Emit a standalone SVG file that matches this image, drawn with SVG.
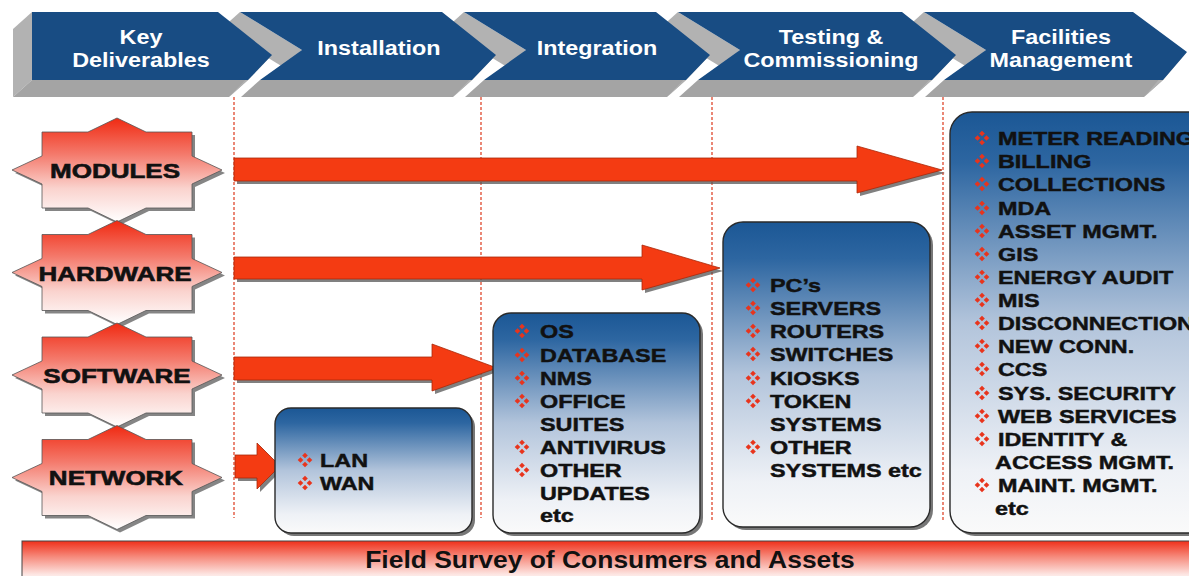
<svg xmlns="http://www.w3.org/2000/svg" xmlns:xlink="http://www.w3.org/1999/xlink" width="1189" height="576" viewBox="0 0 1189 576">
  <defs>
    <style>
      .face { fill: #b2b2b2; }
      .base { fill: #a4a4a4; }
      .front { fill: #184c83; }
      .hd { font-family: "Liberation Sans", Arial, sans-serif; font-weight: bold; font-size: 20.5px; fill: #ffffff; text-anchor: middle; }
      .lbl { font-family: "Liberation Sans", Arial, sans-serif; font-weight: bold; font-size: 20px; fill: #111; stroke: #111; stroke-width: 0.6; text-anchor: middle; }
      .itm { font-family: "Liberation Sans", Arial, sans-serif; font-weight: bold; font-size: 19px; fill: #111; stroke: #111; stroke-width: 0.45; }
      .ft { font-family: "Liberation Sans", Arial, sans-serif; font-weight: bold; font-size: 23px; fill: #111; text-anchor: middle; }
      .guide { stroke: #e2553c; stroke-width: 1.4; stroke-dasharray: 3 2; fill: none; }
      .arrow { fill: #f43b12; stroke: #a8280a; stroke-width: 0.8; }
      .ashadow { fill: #555; opacity: 0.75; }
      .star { fill: url(#starGrad); stroke: #555; stroke-width: 0.8; }
      .sshadow { fill: #666; opacity: 0.8; }
      .box { fill: url(#boxGrad); stroke: #2a2a2a; stroke-width: 1.4; }
      .bshadow { fill: #555; opacity: 0.8; }
    </style>
    <linearGradient id="starGrad" x1="0" y1="0" x2="0" y2="1">
      <stop offset="0" stop-color="#f02a12"/>
      <stop offset="0.35" stop-color="#f47a6c"/>
      <stop offset="0.68" stop-color="#fad3ce"/>
      <stop offset="1" stop-color="#ffffff"/>
    </linearGradient>
    <linearGradient id="boxGrad" x1="0" y1="0" x2="0" y2="1">
      <stop offset="0" stop-color="#1b5795"/>
      <stop offset="0.12" stop-color="#2d66a1"/>
      <stop offset="0.5" stop-color="#b2c4db"/>
      <stop offset="0.85" stop-color="#eef1f6"/>
      <stop offset="1" stop-color="#fafafa"/>
    </linearGradient>
    <linearGradient id="barGrad" x1="0" y1="0" x2="0" y2="1">
      <stop offset="0" stop-color="#f0301a"/>
      <stop offset="0.35" stop-color="#f68a7c"/>
      <stop offset="0.75" stop-color="#fde7e4"/>
      <stop offset="1" stop-color="#ffffff"/>
    </linearGradient>
    <!-- four-diamond bullet -->
    <g id="bul" fill="#e8341c">
      <polygon points="0,-7.3 2.8,-4.5 0,-1.7 -2.8,-4.5"/>
      <polygon points="4.5,-2.8 7.3,0 4.5,2.8 1.7,0"/>
      <polygon points="0,1.7 2.8,4.5 0,7.3 -2.8,4.5"/>
      <polygon points="-4.5,-2.8 -1.7,0 -4.5,2.8 -7.3,0"/>
    </g>
    <!-- eight-point label badge centred on 0,0 -->
    <polygon id="badge" points="-75,-38 -29,-38 0,-52 29,-38 75,-38 75,-14 105,0 75,14 75,38 29,38 0,52 -29,38 -75,38 -75,14 -105,0 -75,-14"/>
  </defs>

  <rect width="1189" height="576" fill="#ffffff"/>

  <!-- phase banner: extruded grey faces -->
  <g id="banner-faces">
    <polygon class="face" points="32,12 32,80 13,97 13,29"/>
    <polygon class="base" points="32,80 248,80 229,97 13,97"/>
    <polygon class="face" points="272,55 248,80 229,97 253,72"/>
    <polygon class="face" points="240,12 302,50 283,67 221,29"/>
    <polygon class="base" points="260,80 472,80 453,97 241,97"/>
    <polygon class="face" points="496,55 472,80 453,97 477,72"/>
    <polygon class="face" points="464,12 526,50 507,67 445,29"/>
    <polygon class="base" points="484,80 686,80 667,97 465,97"/>
    <polygon class="face" points="710,55 686,80 667,97 691,72"/>
    <polygon class="face" points="678,12 740,50 721,67 659,29"/>
    <polygon class="base" points="698,80 932,80 913,97 679,97"/>
    <polygon class="face" points="956,55 932,80 913,97 937,72"/>
    <polygon class="face" points="924,12 986,50 967,67 905,29"/>
    <polygon class="base" points="944,80 1163,80 1144,97 925,97"/>
    <polygon class="face" points="1187,52 1163,80 1144,97 1168,69"/>
  </g>

  <g id="phase-key-deliverables">
    <polygon class="front" points="32,12 218,12 272,55 248,80 32,80"/>
    <g transform="translate(141,0) scale(1.14,1)">
      <text class="hd" x="0" y="44">Key</text>
      <text class="hd" x="0" y="67">Deliverables</text>
    </g>
  </g>
  <g id="phase-installation">
    <polygon class="front" points="240,12 442,12 496,55 472,80 260,80 302,50"/>
    <g transform="translate(379,0) scale(1.14,1)">
      <text class="hd" x="0" y="55">Installation</text>
    </g>
  </g>
  <g id="phase-integration">
    <polygon class="front" points="464,12 656,12 710,55 686,80 484,80 526,50"/>
    <g transform="translate(597,0) scale(1.14,1)">
      <text class="hd" x="0" y="55">Integration</text>
    </g>
  </g>
  <g id="phase-testing">
    <polygon class="front" points="678,12 902,12 956,55 932,80 698,80 740,50"/>
    <g transform="translate(831,0) scale(1.14,1)">
      <text class="hd" x="0" y="44">Testing &amp;</text>
      <text class="hd" x="0" y="67">Commissioning</text>
    </g>
  </g>
  <g id="phase-facilities">
    <polygon class="front" points="924,12 1133,12 1187,52 1163,80 944,80 986,50"/>
    <g transform="translate(1061,0) scale(1.14,1)">
      <text class="hd" x="0" y="44">Facilities</text>
      <text class="hd" x="0" y="67">Management</text>
    </g>
  </g>

  <!-- phase boundaries -->
  <g id="guides">
    <line class="guide" x1="234" y1="97" x2="234" y2="518"/>
    <line class="guide" x1="481" y1="97" x2="481" y2="518"/>
    <line class="guide" x1="712" y1="97" x2="712" y2="520"/>
    <line class="guide" x1="943" y1="97" x2="943" y2="520"/>
  </g>

  <!-- deliverable badges -->
  <g id="badge-modules">
    <use href="#badge" class="sshadow" transform="translate(120,173)"/>
    <use href="#badge" class="star" transform="translate(117,170)"/>
    <g transform="translate(115,0) scale(1.3,1)"><text class="lbl" x="0" y="178">MODULES</text></g>
  </g>
  <g id="badge-hardware">
    <use href="#badge" class="sshadow" transform="translate(120,275.5)"/>
    <use href="#badge" class="star" transform="translate(117,272.5)"/>
    <g transform="translate(115,0) scale(1.3,1)"><text class="lbl" x="0" y="281">HARDWARE</text></g>
  </g>
  <g id="badge-software">
    <use href="#badge" class="sshadow" transform="translate(120,378)"/>
    <use href="#badge" class="star" transform="translate(117,375)"/>
    <g transform="translate(117,0) scale(1.3,1)"><text class="lbl" x="0" y="383">SOFTWARE</text></g>
  </g>
  <g id="badge-network">
    <use href="#badge" class="sshadow" transform="translate(120,480.5)"/>
    <use href="#badge" class="star" transform="translate(117,477.5)"/>
    <g transform="translate(116,0) scale(1.3,1)"><text class="lbl" x="0" y="485">NETWORK</text></g>
  </g>

  <!-- block arrows from each deliverable to its phase -->
  <g id="connectors">
    <polygon class="ashadow" transform="translate(3,3)" points="234,158 857,158 857,146 942,170 857,193 857,181 234,181"/>
    <polygon class="arrow" points="234,158 857,158 857,146 942,170 857,193 857,181 234,181"/>
    <polygon class="ashadow" transform="translate(3,3)" points="234,257 642,257 642,245 720,268 642,290 642,279 234,279"/>
    <polygon class="arrow" points="234,257 642,257 642,245 720,268 642,290 642,279 234,279"/>
    <polygon class="ashadow" transform="translate(3,3)" points="234,357 432,357 432,344 497,368 432,391 432,380 234,380"/>
    <polygon class="arrow" points="234,357 432,357 432,344 497,368 432,391 432,380 234,380"/>
    <polygon class="ashadow" transform="translate(3,3)" points="235,455 257,455 257,443 280,466 257,489 257,478 235,478"/>
    <polygon class="arrow" points="235,455 257,455 257,443 280,466 257,489 257,478 235,478"/>
  </g>

  <!-- installation: network -->
  <g id="box-network">
    <rect class="bshadow" x="278" y="411" width="197" height="125" rx="16"/>
    <rect class="box" x="275" y="408" width="197" height="125" rx="16"/>
    <use href="#bul" x="305" y="460"/>
    <use href="#bul" x="305" y="483"/>
    <g transform="translate(320,0) scale(1.23,1)">
      <text class="itm" x="0" y="467">LAN</text>
      <text class="itm" x="0" y="490">WAN</text>
    </g>
  </g>

  <!-- integration: software -->
  <g id="box-software">
    <rect class="bshadow" x="496" y="316" width="207" height="220" rx="18"/>
    <rect class="box" x="493" y="313" width="207" height="220" rx="18"/>
    <use href="#bul" x="522" y="331"/>
    <use href="#bul" x="522" y="355"/>
    <use href="#bul" x="522" y="378"/>
    <use href="#bul" x="522" y="401"/>
    <use href="#bul" x="522" y="447"/>
    <use href="#bul" x="522" y="470"/>
    <g transform="translate(540,0) scale(1.23,1)">
      <text class="itm" x="0" y="338">OS</text>
      <text class="itm" x="0" y="362">DATABASE</text>
      <text class="itm" x="0" y="385">NMS</text>
      <text class="itm" x="0" y="408">OFFICE</text>
      <text class="itm" x="0" y="431">SUITES</text>
      <text class="itm" x="0" y="454">ANTIVIRUS</text>
      <text class="itm" x="0" y="477">OTHER</text>
      <text class="itm" x="0" y="500">UPDATES</text>
      <text class="itm" x="0" y="522">etc</text>
    </g>
  </g>

  <!-- testing & commissioning: hardware -->
  <g id="box-hardware">
    <rect class="bshadow" x="726" y="225" width="207" height="305" rx="20"/>
    <rect class="box" x="723" y="222" width="207" height="305" rx="20"/>
    <use href="#bul" x="753" y="285"/>
    <use href="#bul" x="753" y="308"/>
    <use href="#bul" x="753" y="331"/>
    <use href="#bul" x="753" y="354"/>
    <use href="#bul" x="753" y="378"/>
    <use href="#bul" x="753" y="401"/>
    <use href="#bul" x="753" y="447"/>
    <g transform="translate(770,0) scale(1.23,1)">
      <text class="itm" x="0" y="292">PC’s</text>
      <text class="itm" x="0" y="315">SERVERS</text>
      <text class="itm" x="0" y="338">ROUTERS</text>
      <text class="itm" x="0" y="361">SWITCHES</text>
      <text class="itm" x="0" y="385">KIOSKS</text>
      <text class="itm" x="0" y="408">TOKEN</text>
      <text class="itm" x="0" y="431">SYSTEMS</text>
      <text class="itm" x="0" y="454">OTHER</text>
      <text class="itm" x="0" y="477">SYSTEMS etc</text>
    </g>
  </g>

  <!-- facilities management: modules -->
  <g id="box-modules">
    <rect class="bshadow" x="953" y="115" width="260" height="421" rx="22"/>
    <rect class="box" x="950" y="112" width="260" height="421" rx="22"/>
    <use href="#bul" x="982" y="138"/>
    <use href="#bul" x="982" y="161"/>
    <use href="#bul" x="982" y="184"/>
    <use href="#bul" x="982" y="208"/>
    <use href="#bul" x="982" y="231"/>
    <use href="#bul" x="982" y="254"/>
    <use href="#bul" x="982" y="277"/>
    <use href="#bul" x="982" y="300"/>
    <use href="#bul" x="982" y="323"/>
    <use href="#bul" x="982" y="346"/>
    <use href="#bul" x="982" y="369"/>
    <use href="#bul" x="982" y="393"/>
    <use href="#bul" x="982" y="416"/>
    <use href="#bul" x="982" y="439"/>
    <use href="#bul" x="982" y="485"/>
    <g transform="translate(998,0) scale(1.23,1)">
      <text class="itm" x="0" y="145">METER READING</text>
      <text class="itm" x="0" y="168">BILLING</text>
      <text class="itm" x="0" y="191">COLLECTIONS</text>
      <text class="itm" x="0" y="215">MDA</text>
      <text class="itm" x="0" y="238">ASSET MGMT.</text>
      <text class="itm" x="0" y="261">GIS</text>
      <text class="itm" x="0" y="284">ENERGY AUDIT</text>
      <text class="itm" x="0" y="307">MIS</text>
      <text class="itm" x="0" y="330">DISCONNECTION</text>
      <text class="itm" x="0" y="353">NEW CONN.</text>
      <text class="itm" x="0" y="376">CCS</text>
      <text class="itm" x="0" y="400">SYS. SECURITY</text>
      <text class="itm" x="0" y="423">WEB SERVICES</text>
      <text class="itm" x="0" y="446">IDENTITY &amp;</text>
      <text class="itm" x="-2.4" y="469">ACCESS MGMT.</text>
      <text class="itm" x="0" y="492">MAINT. MGMT.</text>
      <text class="itm" x="-2.4" y="515">etc</text>
    </g>
  </g>

  <!-- foundation bar -->
  <g id="field-survey">
    <rect x="22" y="541" width="1180" height="45" fill="url(#barGrad)" stroke="#444" stroke-width="1"/>
    <g transform="translate(610,0) scale(1.15,1)">
      <text class="ft" x="0" y="568">Field Survey of Consumers and Assets</text>
    </g>
  </g>
</svg>
